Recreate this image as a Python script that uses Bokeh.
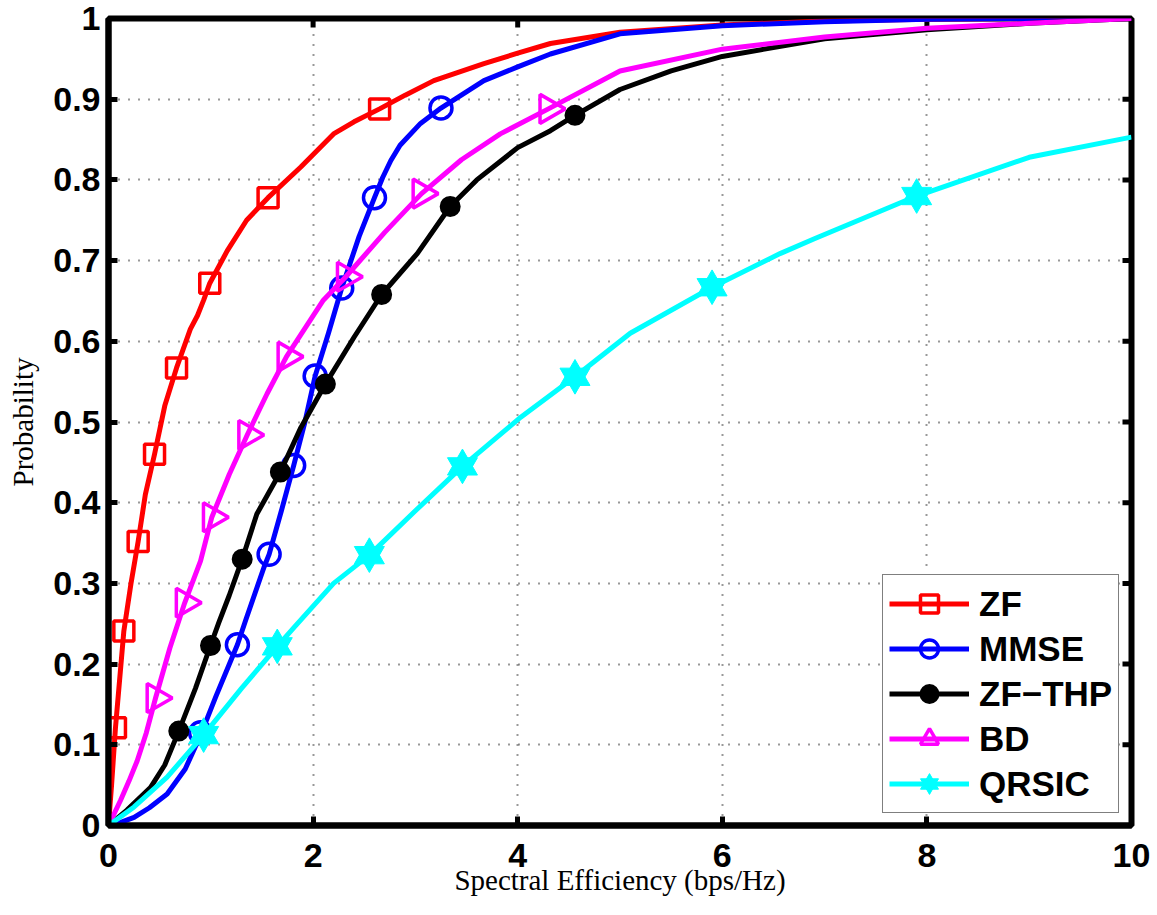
import math
from bokeh.plotting import figure
from bokeh.models import FixedTicker, Legend, LegendItem, Range1d
from bokeh.embed import file_html
from bokeh.resources import INLINE

# ---- data ----
x_ticks = [0, 2, 4, 6, 8, 10]
y_ticks = [0, 0.1, 0.2, 0.3, 0.4, 0.5, 0.6, 0.7, 0.8, 0.9, 1]
y_tick_labels = ["0", "0.1", "0.2", "0.3", "0.4", "0.5", "0.6", "0.7", "0.8", "0.9", "1"]

zf_x = [0, 0.03, 0.068, 0.15, 0.22, 0.29, 0.36, 0.45, 0.55, 0.665, 0.8, 0.87, 0.93, 0.99, 1.16, 1.35,
        1.56, 1.88, 2.2, 2.4, 2.65, 2.9, 3.18, 3.67, 4.0, 4.32, 5.0, 6.0, 7.0, 8.0, 9.0, 10.0]
zf_y = [0, 0.05, 0.121, 0.241, 0.30, 0.352, 0.41, 0.46, 0.52, 0.567, 0.615, 0.632, 0.651, 0.672, 0.712, 0.75,
        0.778, 0.816, 0.857, 0.872, 0.888, 0.905, 0.923, 0.944, 0.957, 0.969, 0.983, 0.992, 0.997, 0.999, 1.0, 1.0]
zf_mx = [0.068, 0.15, 0.29, 0.45, 0.665, 0.99, 1.56, 2.65]
zf_my = [0.121, 0.241, 0.352, 0.460, 0.567, 0.672, 0.778, 0.888]

mmse_x = [0, 0.1, 0.25, 0.4, 0.573, 0.75, 0.9, 1.05, 1.26, 1.34, 1.52, 1.57, 1.69, 1.81, 1.92, 2.02, 2.15,
          2.28, 2.45, 2.6, 2.68, 2.76, 2.85, 3.05, 3.25, 3.67, 4.0, 4.32, 5.0, 6.0, 7.0, 8.0, 9.0, 10.0]
mmse_y = [0, 0.003, 0.010, 0.022, 0.039, 0.07, 0.112, 0.16, 0.224, 0.254, 0.32, 0.336, 0.39, 0.446, 0.50, 0.557, 0.61,
          0.666, 0.73, 0.778, 0.803, 0.824, 0.843, 0.870, 0.889, 0.923, 0.94, 0.956, 0.981, 0.991, 0.996, 0.999, 1.0, 1.0]
mmse_mx = [0.9, 1.26, 1.57, 1.81, 2.02, 2.28, 2.6, 3.25]
mmse_my = [0.115, 0.224, 0.336, 0.446, 0.557, 0.666, 0.778, 0.889]

thp_x = [0, 0.18, 0.41, 0.55, 0.687, 0.85, 0.997, 1.08, 1.18, 1.307, 1.45, 1.68, 1.88, 2.12, 2.40, 2.67,
         3.02, 3.34, 3.6, 4.0, 4.32, 4.56, 5.0, 5.5, 6.0, 7.0, 8.0, 9.0, 10.0]
thp_y = [0, 0.019, 0.047, 0.075, 0.117, 0.17, 0.223, 0.252, 0.285, 0.330, 0.386, 0.438, 0.493, 0.547, 0.605, 0.658,
         0.709, 0.767, 0.80, 0.840, 0.861, 0.880, 0.912, 0.935, 0.953, 0.975, 0.986, 0.994, 1.0]
thp_mx = [0.687, 0.997, 1.307, 1.68, 2.12, 2.67, 3.34, 4.56]
thp_my = [0.117, 0.223, 0.330, 0.438, 0.547, 0.658, 0.767, 0.880]

bd_x = [0, 0.117, 0.2, 0.28, 0.37, 0.46, 0.6, 0.745, 0.9, 1.01, 1.18, 1.356, 1.55, 1.74, 2.1, 2.32, 2.7,
        3.06, 3.45, 3.83, 4.3, 5.0, 6.0, 7.0, 8.0, 9.0, 10.0]
bd_y = [0, 0.031, 0.055, 0.080, 0.115, 0.158, 0.22, 0.276, 0.328, 0.382, 0.435, 0.484, 0.535, 0.581, 0.651, 0.68, 0.735,
        0.783, 0.825, 0.857, 0.888, 0.935, 0.962, 0.977, 0.988, 0.994, 1.0]
bd_mx = [0.46, 0.745, 1.01, 1.356, 1.74, 2.32, 3.06, 4.3]
bd_my = [0.158, 0.276, 0.382, 0.484, 0.581, 0.68, 0.783, 0.888]

qr_x = [0, 0.25, 0.573, 0.93, 1.3, 1.65, 1.81, 2.2, 2.55, 3.0, 3.46, 4.03, 4.56, 5.1, 5.9, 6.57, 6.9, 7.9, 9.0, 10.0]
qr_y = [0, 0.023, 0.060, 0.112, 0.17, 0.222, 0.245, 0.30, 0.335, 0.39, 0.445, 0.506, 0.556, 0.61, 0.667, 0.709, 0.727,
        0.78, 0.828, 0.853]
qr_mx = [0.93, 1.65, 2.55, 3.46, 4.56, 5.9, 7.9]
qr_my = [0.112, 0.222, 0.335, 0.445, 0.556, 0.667, 0.78]

# ---- figure ----
p = figure(width=1150, height=910, x_range=Range1d(0, 10), y_range=Range1d(0, 1),
           output_backend="svg", toolbar_location=None,
           min_border_left=108, min_border_right=19, min_border_top=18, min_border_bottom=85)
p.outline_line_color = "black"
p.outline_line_width = 6
p.background_fill_color = "white"
p.border_fill_color = "white"

TICK_FONT = "Liberation Sans"
LABEL_FONT = "Liberation Serif"

for ax in (p.xaxis[0], p.yaxis[0]):
    ax.axis_line_width = 6
    ax.axis_line_color = "black"
    ax.major_tick_in = 9
    ax.major_tick_out = 0
    ax.major_tick_line_width = 5
    ax.major_tick_line_color = "black"
    ax.minor_tick_line_color = None
    ax.major_label_text_font = TICK_FONT
    ax.major_label_text_font_size = "34px"
    ax.major_label_text_font_style = "bold"
    ax.major_label_text_color = "black"
    ax.axis_label_text_font = LABEL_FONT
    ax.axis_label_text_font_size = "29px"
    ax.axis_label_text_font_style = "normal"
    ax.axis_label_text_color = "black"

p.xaxis.ticker = FixedTicker(ticks=x_ticks)
p.yaxis.ticker = FixedTicker(ticks=y_ticks)
p.yaxis.major_label_overrides = {t: l for t, l in zip(y_ticks, y_tick_labels)}
p.xaxis.major_label_standoff = 18
p.yaxis.major_label_standoff = 8
p.xaxis.axis_label = "Spectral Efficiency (bps/Hz)"
p.yaxis.axis_label = "Probability"
p.xaxis.axis_label_standoff = -6
p.yaxis.axis_label_standoff = 11

for g in (p.xgrid[0], p.ygrid[0]):
    g.grid_line_color = "#333333"
    g.grid_line_width = 2
    g.grid_line_dash = "1 9"

# inward ticks on the top and right edges of the box (half of each dash is clipped by the frame)
p.scatter(x_ticks, [1] * len(x_ticks), marker="dash", angle=math.pi / 2, size=18,
          line_color="black", line_width=5)
p.scatter([10] * len(y_ticks), y_ticks, marker="dash", size=18, line_color="black", line_width=5)

LW = 5
# ZF
zf_l = p.line(zf_x, zf_y, line_color="#FF0000", line_width=LW, line_join="round")
zf_m = p.scatter(zf_mx, zf_my, marker="square", size=20, fill_color=None, line_color="#FF0000", line_width=3.5)
# MMSE
mm_l = p.line(mmse_x, mmse_y, line_color="#0000FF", line_width=LW, line_join="round")
mm_m = p.scatter(mmse_mx, mmse_my, marker="circle", size=22, fill_color=None, line_color="#0000FF", line_width=3.5)
# ZF-THP
th_l = p.line(thp_x, thp_y, line_color="black", line_width=LW, line_join="round")
th_m = p.scatter(thp_mx, thp_my, marker="circle", size=19, fill_color="black", line_color="black", line_width=2)
# BD
bd_l = p.line(bd_x, bd_y, line_color="#FF00FF", line_width=LW, line_join="round")
bd_m = p.scatter(bd_mx, bd_my, marker="triangle", size=29, angle=-math.pi / 2, fill_color=None,
                 line_color="#FF00FF", line_width=3.5)
# QRSIC
qr_l = p.line(qr_x, qr_y, line_color="#00FFFF", line_width=LW, line_join="round")
qr_m1 = p.scatter(qr_mx, qr_my, marker="triangle", size=30, fill_color="#00FFFF", line_color="#00FFFF", line_width=1)
qr_m2 = p.scatter(qr_mx, qr_my, marker="inverted_triangle", size=30, fill_color="#00FFFF", line_color="#00FFFF", line_width=1)

legend = Legend(items=[
    LegendItem(label="ZF", renderers=[zf_l, zf_m]),
    LegendItem(label="MMSE", renderers=[mm_l, mm_m]),
    LegendItem(label="ZF\u2212THP", renderers=[th_l, th_m]),
    LegendItem(label="BD", renderers=[bd_l, bd_m]),
    LegendItem(label="QRSIC", renderers=[qr_l, qr_m1, qr_m2]),
], location=(774, 12))
legend.label_text_font = TICK_FONT
legend.label_text_font_size = "35px"
legend.label_text_font_style = "bold"
legend.label_text_color = "black"
legend.glyph_width = 80
legend.glyph_height = 45
legend.label_height = 45
legend.label_standoff = 10
legend.spacing = 0
legend.padding = 6
legend.margin = 0
legend.border_line_color = "black"
legend.border_line_width = 1.5
legend.background_fill_color = "white"
legend.background_fill_alpha = 1
p.add_layout(legend)

open("out.html", "w").write(file_html(p, INLINE))
